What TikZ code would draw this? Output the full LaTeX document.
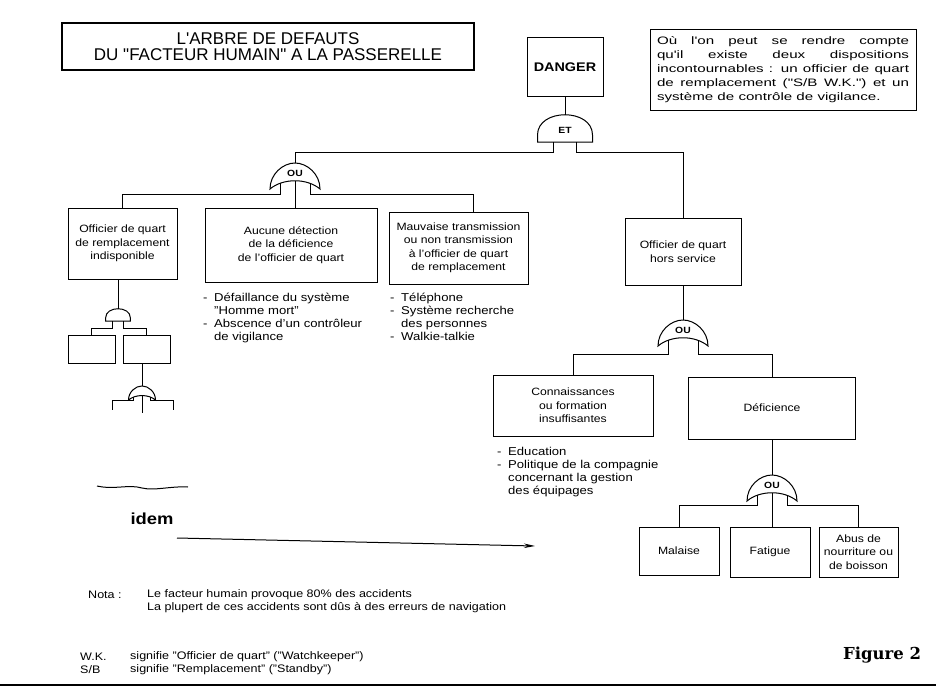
\documentclass[tikz,border=0pt]{standalone}
\usepackage{fontspec}
\setmainfont{Liberation Sans}[FakeStretch=1.15]
\newfontfamily\titlefont{Liberation Sans}
\newfontfamily\notefont{Liberation Sans}[FakeStretch=1.4]
\newfontfamily\figfont{DejaVu Serif}
\usetikzlibrary{arrows.meta}
\newcommand{\dashitem}{\makebox[11pt][l]{-}}
\newcommand{\contline}{\hspace*{11pt}}

\tikzset{
	evbox/.style={draw, line width=1pt, align=center, inner sep=2pt, font=\fontsize{10.6}{13.5}\selectfont},
	smallbox/.style={draw, line width=1pt, minimum width=47pt, minimum height=28pt, inner sep=0pt},
	gateshape/.style={draw, line width=1pt, fill=white},
	gatetext/.style={font=\bfseries\fontsize{9}{10}\selectfont, inner sep=0pt},
	bulletlist/.style={anchor=north west, align=left, inner sep=0pt, font=\fontsize{11.4}{13}\selectfont},
	notatext/.style={anchor=west, inner sep=0pt, font=\fontsize{10.9}{12}\selectfont},
	pics/andgate/.style={code={
		\draw[gateshape] (-27.5,0) -- (27.5,0) -- (27.5,-7) .. controls (27.5,-34) and (-27.5,-34) .. (-27.5,-7) -- cycle;
		\node[gatetext] at (0,-12) {#1};
		\coordinate (-t) at (0,-27);
		\coordinate (-l) at (-11.5,0);
		\coordinate (-r) at (11.5,0);
	}},
	pics/orgate/.style={code={
		\draw[gateshape] (-25,0) .. controls (-25,-15) and (-12,-26) .. (0,-26) .. controls (12,-26) and (25,-15) .. (25,0) .. controls (12,-11) and (-12,-11) .. (-25,0) -- cycle;
		\node[gatetext] at (0,-16) {#1};
		\coordinate (-t) at (0,-26);
		\coordinate (-l) at (-15,-5.7);
		\coordinate (-c) at (0,-8.2);
		\coordinate (-r) at (15,-5.7);
	}},
}

\begin{document}
\begin{tikzpicture}[x=1pt,y=-1pt]
		\useasboundingbox (0,0) rectangle (936,690);
		%title + remark
			\node[draw, line width=1.5pt, minimum width=412pt, minimum height=47pt, align=center, font=\titlefont\fontsize{17}{16.5}\selectfont] (title) at (268,46.5) {L'ARBRE DE DEFAUTS\\DU "FACTEUR HUMAIN" A LA PASSERELLE};
			\node[draw, line width=1pt, text width=252pt, align=justify, inner sep=7pt, font=\notefont\fontsize{10.8}{14}\selectfont] (remark) at (783,70) {Où l'on peut se rendre compte\linebreak qu'il existe deux dispositions\linebreak incontournables : un officier de quart\linebreak de remplacement ("S/B W.K.") et un\linebreak système de contrôle de vigilance.};
		%top event
			\node[evbox, minimum width=76pt, minimum height=59pt, font=\bfseries\fontsize{12.5}{14}\selectfont] (danger) at (565,67.5) {DANGER};
			\pic (et) at (565,142) {andgate=ET};
			\draw[line width=1pt] (danger) -- (et-t);
		%left branch
			\pic (ou1) at (295,189) {orgate=OU};
			\draw[line width=1pt] (et-l) -- ++(0,10) -| (ou1-t);
			\node[evbox, minimum width=109pt, minimum height=71pt] (indisp) at (122.5,243.5) {Officier de quart\\de remplacement\\indisponible};
			\node[evbox, minimum width=172pt, minimum height=74pt] (detect) at (291,245) {Aucune détection\\de la déficience\\de l'officier de quart};
			\node[evbox, minimum width=139pt, minimum height=72pt] (transm) at (458.5,248) {Mauvaise transmission\\ou non transmission\\à l'officier de quart\\de remplacement};
			\draw[line width=1pt] (ou1-l) -- ++(0,11) -| (indisp);
			\draw[line width=1pt] (ou1-c) -- (ou1-c |- detect.north);
			\draw[line width=1pt] (ou1-r) -- ++(0,11) -| ([xshift=14.5pt]transm.north);
			\node[bulletlist] (detectlist) at (203,293) {\dashitem Défaillance du système\\\contline "Homme mort"\\\dashitem Abscence d'un contrôleur\\\contline de vigilance};
			\node[bulletlist] (transmlist) at (390,293) {\dashitem Téléphone\\\dashitem Système recherche\\\contline des personnes\\\dashitem Walkie-talkie};
		%small subtree
			\pic[scale=0.45] (sa) at (118,321) {andgate=};
			\draw[line width=1pt] (sa-t |- indisp.south) -- (sa-t);
			\node[smallbox] (sub1) at (91.5,349) {};
			\node[smallbox] (sub2) at (146.5,349) {};
			\draw[line width=1pt] (sa-l) -- ++(0,7) -| (sub1);
			\draw[line width=1pt] (sa-r) -- ++(0,7) -| (sub2);
			\pic[scale=0.54] (so) at (142,400) {orgate=};
			\draw[line width=1pt] (so-t |- sub2.south) -- (so-t);
			\coordinate (soleft) at (112,410);
			\coordinate (soright) at (173,410);
			\coordinate (somid) at (142,413);
			\draw[line width=1pt] (so-l) -- ++(0,4) -| (soleft);
			\draw[line width=1pt] (so-r) -- ++(0,4) -| (soright);
			\draw[line width=1pt] (so-c) -- (somid);
		%idem
			\draw[line width=1pt] (97,486) .. controls (115,490) and (128,484) .. (142,488) .. controls (155,491) and (170,486) .. (188,487);
			\node[font=\bfseries\fontsize{16}{18}\selectfont, inner sep=0pt] (idem) at (152,519) {idem};
			\coordinate (idemstart) at (177,538);
			\coordinate (idemend) at (535,546);
			\draw[line width=1pt, -{Stealth[length=11pt,width=4.5pt]}] (idemstart) -- (idemend);
		%right branch
			\node[evbox, minimum width=116pt, minimum height=67pt] (hors) at (683,251.5) {Officier de quart\\hors service};
			\draw[line width=1pt] (et-r) -- ++(0,10) -| (hors);
			\pic (ou2) at (683,346) {orgate=OU};
			\draw[line width=1pt] (hors) -- (ou2-t);
			\node[evbox, minimum width=160pt, minimum height=61pt] (connais) at (573,405.5) {Connaissances\\ou formation\\insuffisantes};
			\node[evbox, minimum width=167pt, minimum height=62pt] (defic) at (772,408) {Déficience};
			\draw[line width=1pt] (ou2-l) -- ++(0,14) -| (connais);
			\draw[line width=1pt] (ou2-r) -- ++(0,14) -| (defic);
			\node[bulletlist] (connaislist) at (497,447) {\dashitem Education\\\dashitem Politique de la compagnie\\\contline concernant la gestion\\\contline des équipages};
			\pic (ou3) at (772,501) {orgate=OU};
			\draw[line width=1pt] (defic) -- (ou3-t);
			\node[evbox, minimum width=80pt, minimum height=48pt] (malaise) at (679,551) {Malaise};
			\node[evbox, minimum width=80pt, minimum height=50pt] (fatigue) at (770,552) {Fatigue};
			\node[evbox, minimum width=79pt, minimum height=50pt] (abus) at (858.5,552) {Abus de\\nourriture ou\\de boisson};
			\draw[line width=1pt] (ou3-l) -- ++(0,10) -| (malaise);
			\draw[line width=1pt] (ou3-c) -- (ou3-c |- fatigue.north);
			\draw[line width=1pt] (ou3-r) -- ++(0,10) -| (abus);
		%notes
			\node[notatext] (nota) at (88,595) {Nota :};
			\node[notatext] (nota1) at (147,595) {Le facteur humain provoque 80\% des accidents};
			\node[notatext] (nota2) at (147,607.5) {La plupert de ces accidents sont dûs à des erreurs de navigation};
			\node[notatext] (wk) at (80,657) {W.K.};
			\node[notatext] (wkdef) at (130,657) {signifie "Officier de quart" ("Watchkeeper")};
			\node[notatext] (sb) at (80,670) {S/B};
			\node[notatext] (sbdef) at (130,670) {signifie "Remplacement" ("Standby")};
			\node[anchor=west, inner sep=0pt, font=\figfont\bfseries\fontsize{16.5}{18}\selectfont] (fig) at (843,655) {Figure 2};
			\draw[line width=2pt] (0,685) -- (936,685);
	\end{tikzpicture}
\end{document}
